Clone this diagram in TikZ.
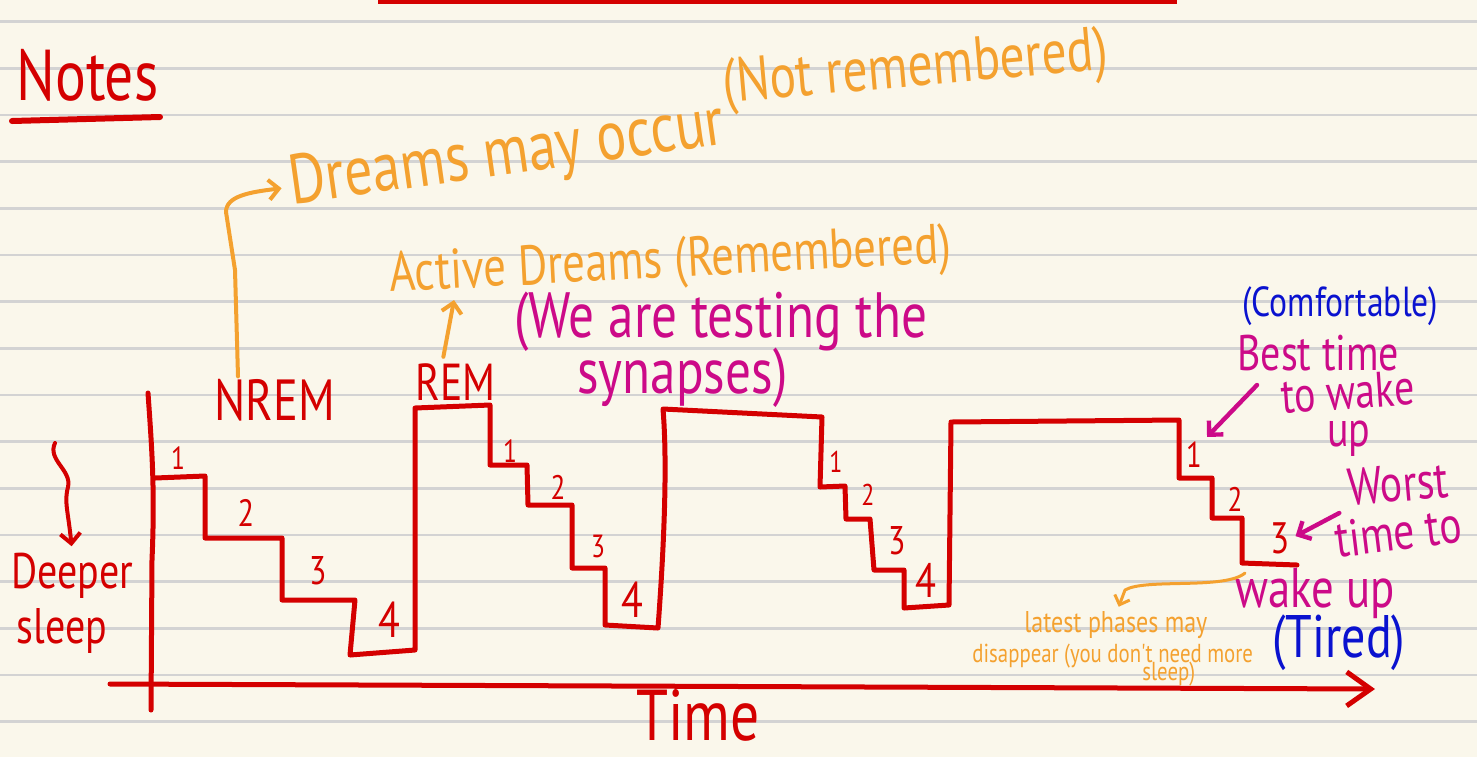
\documentclass[tikz,border=0pt]{standalone}
\usepackage{fontspec}
\setmainfont{PT Sans}
\newfontfamily\hand[FakeStretch=0.8]{PT Sans}
\usetikzlibrary{arrows.meta}
\definecolor{notepaper}{HTML}{FAF7EB}
\definecolor{noterule}{HTML}{D3D3D3}
\definecolor{notered}{HTML}{D40000}
\definecolor{noteorange}{HTML}{F4A12F}
\definecolor{notepink}{HTML}{CC0A88}
\definecolor{noteblue}{HTML}{0A12CF}

\begin{document}
\begin{tikzpicture}[x=0.5pt,y=-0.5pt,line cap=round,line join=round,
  ink/.style={font=\hand\fontsize{#1}{#1}\selectfont,inner sep=1pt},
  stepnum/.style={ink=#1,text=notered},
  curve/.style={notered,line width=2.5pt},
  orangearrow/.style={noteorange,line width=2pt,-{Straight Barb[length=5pt,width=10pt]}},
  pinkarrow/.style={notepink,line width=2.2pt,-{Straight Barb[length=5pt,width=10pt]}}]
\useasboundingbox (0,0) rectangle (1477,757);
\fill[notepaper] (0,0) rectangle (1477,757);
\foreach \k in {0,...,15}
  \draw[noterule,line width=1.3pt] (0,{21.7+46.66*\k}) -- (1477,{21.7+46.66*\k});
\fill[notered] (378,-2) rectangle (1177,4);

% heading
\node[ink=36,text=notered,anchor=base west] (notes) at (14,100) {Notes};
\draw[notered,line width=3pt] (12,121) -- (160,117);

% orange notes on dreams
\node[ink=35,text=noteorange,anchor=base west,rotate=8] (dreams) at (290,205) {Dreams may occur};
\node[ink=31,text=noteorange,anchor=base west,rotate=5] (notremembered) at (722,103) {(Not remembered)};
\node[ink=28,text=noteorange,anchor=base west,rotate=3] (active) at (388,292) {Active Dreams (Remembered)};
\node[ink=32,text=notepink,anchor=base west] (testing) at (512,337) {(We are testing the};
\node[ink=32,text=notepink,anchor=base west] (synapses) at (575,393) {synapses)};

% phase names
\node[ink=29,text=notered,anchor=base west] (nrem) at (212,420) {NREM};
\node[ink=26,text=notered,anchor=base west] (rem) at (413,400) {REM};
\draw[orangearrow,shorten >=3pt] ([xshift=13pt]nrem.north west) -- (235,270) -- (226,212)
  .. controls (226,196) and (250,192) .. (dreams.west);
\coordinate (activefoot) at (454,300);
\draw[orangearrow] ([xshift=-6pt,yshift=2pt]rem.north) -- (activefoot);

% axes
\draw[curve] (148,393) .. controls (152,450) and (155,490) .. (152,560) -- (151,710);
\draw[curve,-{Straight Barb[length=12pt,width=17pt]}] (110,684) -- (1375,689);
\node[ink=36,text=notered,anchor=base west,inner sep=0pt] (time) at (636,740) {Time};
\node[ink=25,text=notered,anchor=base] (deeper) at (72,588) {Deeper};
\node[ink=25,text=notered,anchor=base] (sleep) at (62,643) {sleep};
\coordinate (squigtop) at (55,443);
\draw[notered,line width=2pt,-{Straight Barb[length=5pt,width=10pt]},shorten >=2pt] (squigtop)
  .. controls (47,460) and (72,470) .. (68,487) .. controls (64,502) and (68,510) .. (deeper.north);

% sleep cycles
\draw[curve] (155,478) -- (205,476) -- (205,538) -- (282,538) -- (282,600) -- (355,600)
  -- (350,655) -- (415,650) -- (415,408) -- (490,405) -- (490,465) -- (527,465)
  -- (528,505) -- (572,505) -- (572,568) -- (605,568) -- (605,625) -- (658,628)
  .. controls (663,560) and (668,470) .. (663,409) -- (822,417) -- (820,487) -- (845,486)
  -- (846,519) -- (870,519) -- (874,570) -- (904,570) -- (904,608) -- (949,605)
  -- (951,422) -- (1179,420) -- (1179,478) -- (1212,478) -- (1212,518) -- (1242,518)
  -- (1242,563) -- (1297,565);
\node[stepnum=16] (c1one) at (178,458) {1};
\node[stepnum=19] (c1two) at (246,513) {2};
\node[stepnum=20] (c1three) at (318,571) {3};
\node[stepnum=25] (c1four) at (389,620) {4};
\node[stepnum=16] (c2one) at (510,451) {1};
\node[stepnum=17] (c2two) at (558,487) {2};
\node[stepnum=16] (c2three) at (598,546) {3};
\node[stepnum=25] (c2four) at (632,600) {4};
\node[stepnum=15] (c3one) at (836,462) {1};
\node[stepnum=15] (c3two) at (868,495) {2};
\node[stepnum=20] (c3three) at (897,541) {3};
\node[stepnum=24] (c3four) at (926,580) {4};
\node[stepnum=18] (c4one) at (1194,455) {1};
\node[stepnum=17] (c4two) at (1235,499) {2};
\node[stepnum=22] (c4three) at (1280,538) {3};

% waking notes
\node[ink=21,text=noteblue,anchor=base west] (comfortable) at (1240,316) {(Comfortable)};
\node[ink=25,text=notepink,anchor=base west] (besttime) at (1235,370) {Best time};
\node[ink=25,text=notepink,anchor=base west,rotate=4] (towake) at (1280,414) {to wake};
\node[ink=25,text=notepink,anchor=base west] (bestup) at (1325,446) {up};
\node[ink=26,text=notepink,anchor=base west,rotate=5] (worst) at (1347,506) {Worst};
\node[ink=26,text=notepink,anchor=base west,rotate=7] (timeto) at (1335,558) {time to};
\node[ink=28,text=notepink,anchor=base west] (wakeup) at (1233,607) {wake up};
\node[ink=30,text=noteblue,anchor=base west] (tired) at (1270,657) {(Tired)};
\draw[pinkarrow,shorten >=2pt] ([xshift=11pt,yshift=-6pt]besttime.south west) -- (c4one.north east);
\draw[pinkarrow,shorten >=2pt] ([xshift=-4pt,yshift=-2pt]worst.south west) -- (c4three.east);

% last phases note
\node[ink=15,text=noteorange,anchor=base west] (latest) at (1022,632) {latest phases may};
\node[ink=13,text=noteorange,anchor=base west] (disappear) at (970,662) {disappear (you don't need more};
\node[ink=13,text=noteorange,anchor=base west] (lastsleep) at (1140,680) {sleep)};
\coordinate (lastfoot) at (1245,573);
\draw[noteorange,line width=1.5pt,-{Straight Barb[length=4pt,width=8pt]},shorten >=1pt] (lastfoot)
  .. controls (1225,590) and (1145,578) .. (1125,590) -- (latest.north -| 1118,0);
\end{tikzpicture}
\end{document}
